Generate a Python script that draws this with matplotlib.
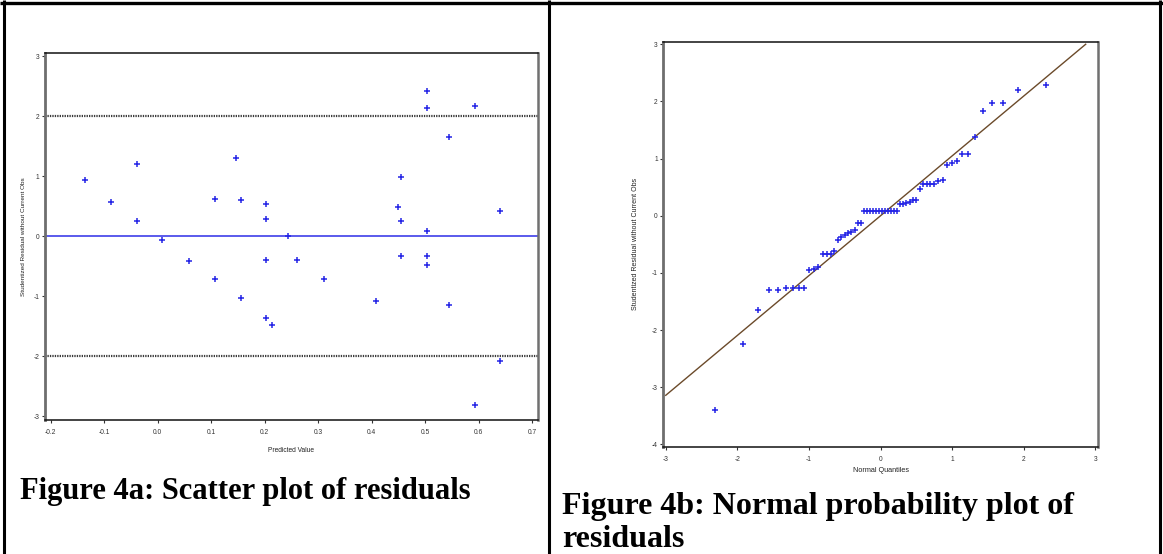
import matplotlib
matplotlib.use("Agg")
import matplotlib.pyplot as plt
from matplotlib.lines import Line2D

# ---------------- data: Figure 4a (scatter of residuals) ----------------
pred_value = [-0.135, -0.087, -0.039, -0.039, 0.009, 0.059, 0.107, 0.107,
              0.146, 0.155, 0.155, 0.202, 0.202, 0.202, 0.202, 0.2135,
              0.244, 0.261, 0.310, 0.407, 0.449, 0.455, 0.455, 0.455,
              0.503, 0.503, 0.503, 0.503, 0.503, 0.545, 0.545, 0.592,
              0.592, 0.640, 0.640]
stud_resid_a = [0.934, 0.575, 1.21, 0.254, -0.066, -0.414, 0.63, -0.718,
                1.309, 0.602, -1.022, 0.541, 0.293, -0.392, -1.354, -1.481,
                0.011, -0.398, -0.718, -1.077, 0.492, 0.989, 0.254, -0.331,
                2.414, 2.138, 0.083, -0.331, -0.481, 1.657, -1.144, 2.18,
                -2.812, 0.414, -2.072]
ref_levels_a = [-2, 2]
xticks_a = [-0.2, -0.1, 0.0, 0.1, 0.2, 0.3, 0.4, 0.5, 0.6, 0.7]
xticklabels_a = ["-0.2", "-0.1", "0.0", "0.1", "0.2", "0.3", "0.4", "0.5", "0.6", "0.7"]
yticks_a = [-3, -2, -1, 0, 1, 2, 3]

# ---------------- data: Figure 4b (normal probability plot) ----------------
normal_quantiles = [-2.313, -1.927, -1.711, -1.554, -1.428, -1.320, -1.227, -1.143,
                    -1.066, -0.995, -0.930, -0.867, -0.808, -0.752, -0.698, -0.645,
                    -0.595, -0.546, -0.498, -0.452, -0.406, -0.361, -0.318, -0.274,
                    -0.231, -0.189, -0.146, -0.104, -0.062, -0.021, 0.021, 0.062,
                    0.104, 0.146, 0.189, 0.231, 0.274, 0.318, 0.361, 0.406,
                    0.452, 0.498, 0.546, 0.595, 0.645, 0.698, 0.752, 0.808,
                    0.867, 0.930, 0.995, 1.066, 1.143, 1.227, 1.320, 1.428,
                    1.554, 1.711, 1.927, 2.313]
stud_resid_b = [-3.40, -2.25, -1.64, -1.29, -1.29, -1.27, -1.27, -1.27,
                -1.27, -0.94, -0.93, -0.89, -0.67, -0.67, -0.67, -0.61,
                -0.43, -0.38, -0.33, -0.30, -0.28, -0.25, -0.12, -0.12,
                0.08, 0.08, 0.08, 0.08, 0.08, 0.08, 0.08, 0.08,
                0.08, 0.08, 0.08, 0.08, 0.20, 0.21, 0.22, 0.235,
                0.28, 0.28, 0.46, 0.55, 0.56, 0.56, 0.56, 0.61,
                0.62, 0.89, 0.92, 0.96, 1.08, 1.08, 1.37, 1.84,
                1.97, 1.97, 2.20, 2.29]
ref_line_intercept = 0.0
ref_line_slope = 1.047
ref_line_xrange = [-3.0, 2.866]
xticks_b = [-3, -2, -1, 0, 1, 2, 3]
yticks_b = [-4, -3, -2, -1, 0, 1, 2, 3]

ylabel_text = "Studentized Residual without Current Obs"
caption_a = "Figure 4a: Scatter plot of residuals"
caption_b = "Figure 4b: Normal probability plot of\nresiduals"

# ---------------- styling ----------------
W, H = 1163, 554
plt.rcParams['font.family'] = ['Liberation Sans', 'DejaVu Sans']
plt.rcParams['axes.unicode_minus'] = False
fig = plt.figure(figsize=(W / 100, H / 100), dpi=100)
fig.patch.set_facecolor("white")

MARK_COLOR = "#2424e6"
TICK_FS = 4.8


def px_axes(left, top, right, bottom):
    return fig.add_axes([left / W, 1 - bottom / H, (right - left) / W, (bottom - top) / H])


def style_axes(ax):
    for side in ("top", "bottom"):
        ax.spines[side].set_color("#111111")
        ax.spines[side].set_linewidth(1.1)
    ax.spines["left"].set_color("#6e6e6e")
    ax.spines["left"].set_linewidth(2.0)
    ax.spines["right"].set_color("#707070")
    ax.spines["right"].set_linewidth(1.8)
    ax.tick_params(direction="out", length=2.5, width=0.8, colors="#333333",
                   labelsize=TICK_FS, pad=1.5)
    ax.tick_params(axis="x", pad=4)


# ---- left panel ----
axa = px_axes(44.7, 52.7, 537.7, 420.3)
axa.set_xlim(-0.211, 0.710)
axa.set_ylim(-3.066, 3.06)
axa.axhline(0, color="#5a5aec", lw=1.4, zorder=1)
for lev in ref_levels_a:
    axa.axhline(lev, color="#3a3a3a", lw=1.6, ls=(0, (0.6, 0.5)), zorder=1)
axa.plot(pred_value, stud_resid_a, ls="none", marker="+", ms=5,
         mew=1.1, color=MARK_COLOR, zorder=3)
axa.set_xticks(xticks_a)
axa.set_xticklabels(xticklabels_a)
axa.set_yticks(yticks_a)
style_axes(axa)
axa.set_xlabel("Predicted Value", fontsize=4.8, labelpad=8, color="#222222")
axa.set_ylabel(ylabel_text, fontsize=4.6, labelpad=5, color="#222222")

# ---- right panel ----
axb = px_axes(663.3, 42.0, 1098.0, 446.7)
axb.set_xlim(-3.034, 3.038)
axb.set_ylim(-4.04, 3.04)
line_y = [ref_line_intercept + ref_line_slope * x for x in ref_line_xrange]
axb.plot(ref_line_xrange, line_y, color="#6b4a2a", lw=1.0, zorder=2)
axb.plot(normal_quantiles, stud_resid_b, ls="none", marker="+", ms=5,
         mew=1.1, color=MARK_COLOR, zorder=3)
axb.set_xticks(xticks_b)
axb.set_yticks(yticks_b)
style_axes(axb)
axb.set_xlabel("Normal Quantiles", fontsize=5.2, labelpad=3, color="#222222")
axb.set_ylabel(ylabel_text, fontsize=5.0, labelpad=9, color="#222222")

# ---- captions ----
cap_font = dict(family=["Liberation Serif", "DejaVu Serif"], fontweight="bold",
                color="black")
fig.text(20 / W, 1 - 491 / H, caption_a, ha="left", va="center",
         fontsize=22, **cap_font)
fig.text(562 / W, 1 - 523 / H, caption_b, ha="left", va="center",
         linespacing=1.16, fontsize=23, **cap_font)

# ---- table borders ----
def fig_line(x0, y0, x1, y1, lw):
    fig.add_artist(Line2D([x0 / W, x1 / W], [1 - y0 / H, 1 - y1 / H],
                          color="black", lw=lw, solid_capstyle="butt"))

fig_line(0, 3, W, 3, 2.4)
fig_line(4, 0, 4, H, 2.2)
fig_line(548.5, 0, 548.5, H, 2.2)
fig_line(1160, 0, 1160, H, 2.2)

fig.savefig("out.png", dpi=100, facecolor="white")
